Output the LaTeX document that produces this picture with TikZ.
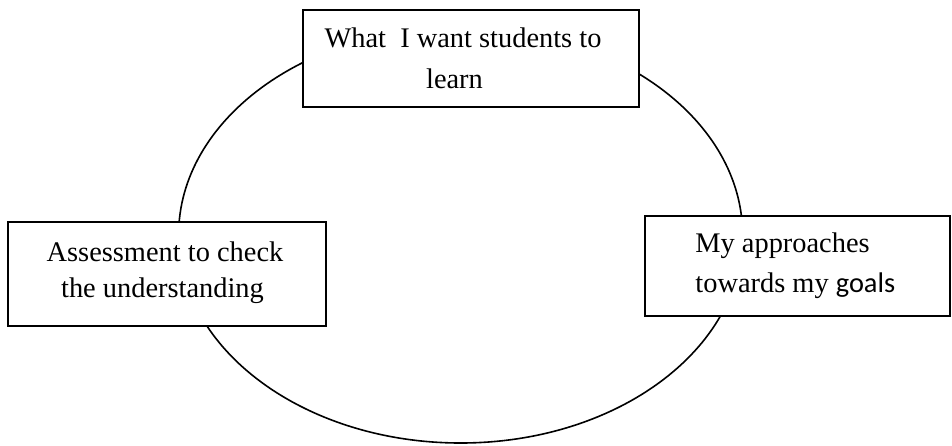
\documentclass[tikz,border=0pt]{standalone}
\usepackage{fontspec}
\setmainfont{Liberation Serif}
\newfontfamily\goalsfont{Carlito}
\usetikzlibrary{fit}
\tikzset{
cadre/.style={
 draw=black,
 fill=white,
 line width=1pt,
 inner sep=0pt,
 outer sep=0pt
 },
texte/.style={
 inner sep=0pt,
 font=\fontsize{14.2}{17}\selectfont
 }
}

\begin{document}
\begin{tikzpicture}[x=0.5pt,y=-0.5pt]
\useasboundingbox (0,0) rectangle (952,445);
\draw[line width=0.8pt] (460.6,235) ellipse [x radius=282, y radius=208];
% the three boxes
\node[cadre, fit={(303,10) (639,107)}] (haut) {};
\node[cadre, fit={(8,222) (326,326)}] (gauche) {};
\node[cadre, fit={(645,216) (950,316)}] (droite) {};
% their texts
\node[texte, anchor=base] (hautA) at (463,47) {What\ \ I want students to};
\node[texte, anchor=base] (hautB) at (454.5,88) {learn};
\node[texte, anchor=base] (gaucheA) at (165,261) {Assessment to check};
\node[texte, anchor=base] (gaucheB) at (162.5,297) {the understanding};
\node[texte, anchor=base west] (droiteA) at (695,252) {My approaches};
\node[texte, anchor=base west] (droiteB) at (695,292) {towards my {\goalsfont goals}};
\end{tikzpicture}
\end{document}
